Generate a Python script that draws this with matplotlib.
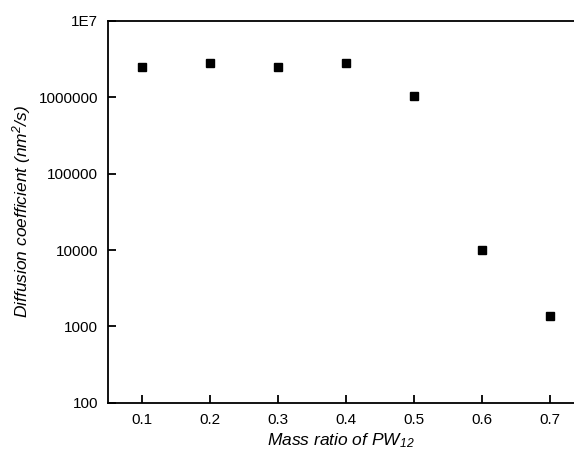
import numpy as np
import matplotlib.pyplot as plt
from matplotlib.ticker import FixedLocator, NullLocator

plt.rcParams['font.family'] = ['Liberation Sans', 'DejaVu Sans']
plt.rcParams['mathtext.default'] = 'regular'

# data
mass_ratio = [0.1, 0.2, 0.3, 0.4, 0.5, 0.6, 0.7]
diffusion = [2.45e6, 2.8e6, 2.45e6, 2.8e6, 1.05e6, 1.0e4, 1.38e3]
y_ticks = [100, 1000, 10000, 100000, 1000000, 10000000]
y_labels = ['100', '1000', '10000', '100000', '1000000', '1E7']
x_ticks = [0.1, 0.2, 0.3, 0.4, 0.5, 0.6, 0.7]

fig = plt.figure(figsize=(5.74, 4.61), dpi=100)
ax = fig.add_axes([0.188, 0.126, 0.812, 0.829])

ax.plot(mass_ratio, diffusion, 's', color='black', markersize=6, linestyle='none')

ax.set_yscale('log')
ax.set_ylim(100, 1e7)
ax.set_xlim(0.05, 0.735)
ax.yaxis.set_major_locator(FixedLocator(y_ticks))
ax.yaxis.set_minor_locator(NullLocator())
ax.set_yticklabels(y_labels)
ax.set_xticks(x_ticks)
ax.set_xticklabels([str(v) for v in x_ticks])

for s in ['left', 'bottom', 'top']:
    ax.spines[s].set_linewidth(1.3)
ax.spines['right'].set_visible(False)
ax.tick_params(direction='in', length=6, width=1.3, labelsize=11, pad=7)

ax.set_xlabel('Mass ratio of PW$_{12}$', fontsize=12.5, style='italic', labelpad=3)
ax.set_ylabel('Diffusion coefficient (nm$^2$/s)', fontsize=12.5, style='italic', labelpad=4)

plt.savefig('out.png', dpi=100)
